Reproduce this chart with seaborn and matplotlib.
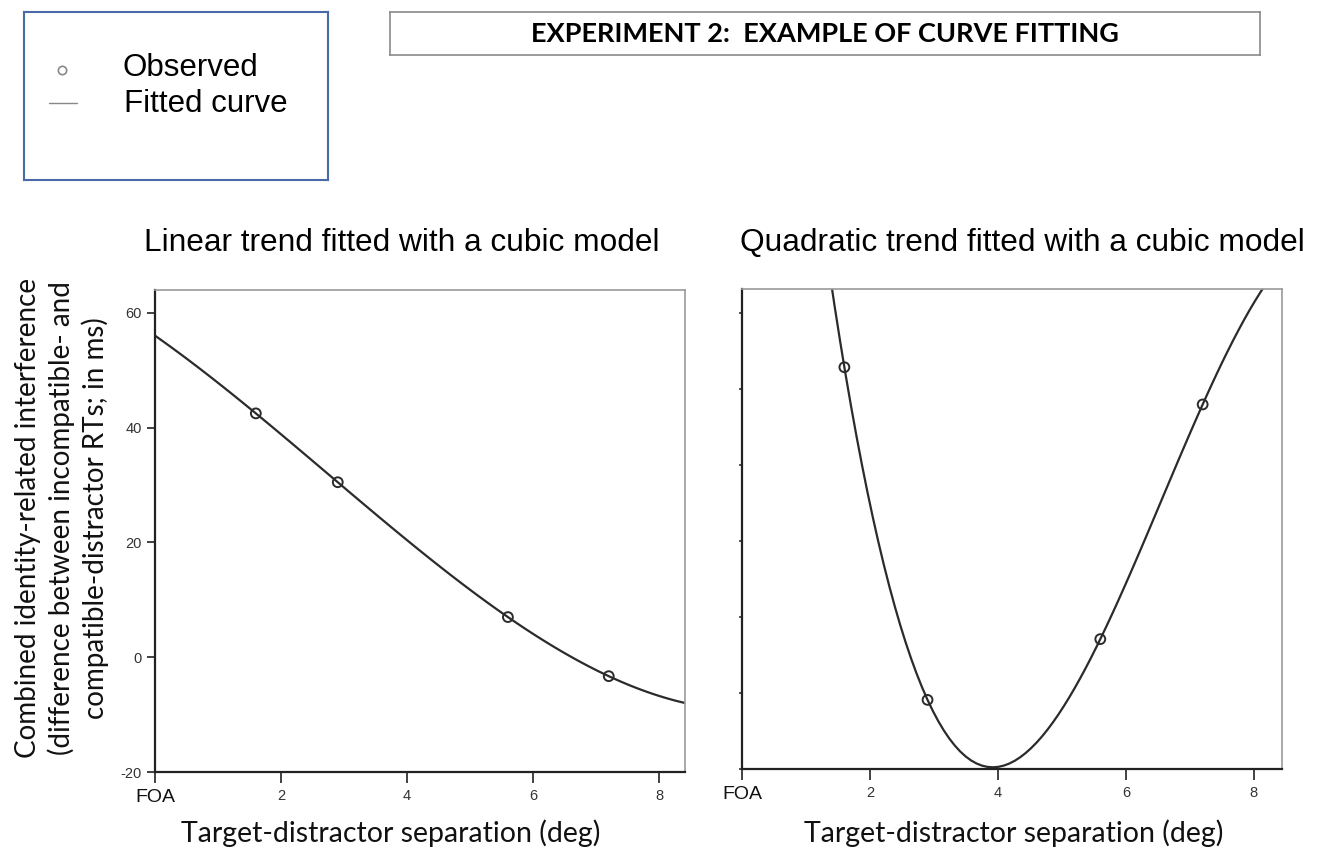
import matplotlib as mpl
import matplotlib.pyplot as plt
import seaborn as sns

# Data
sep_deg = [1.6, 2.9, 5.6, 7.2]
linear_obs = [42.5, 30.5, 7.0, -3.3]
quad_obs = [32.9, -10.9, -2.9, 28.0]

x_ticks = [0, 2, 4, 6, 8]
x_ticklabels = ['FOA', '2', '4', '6', '8']
left_yticks = [-20, 0, 20, 40, 60]
right_yticks = [-20, -10, 0, 10, 20, 30, 40]

panel_titles = ['Linear trend fitted with a cubic model',
                'Quadratic trend fitted with a cubic model']
main_title = 'EXPERIMENT 2:  EXAMPLE OF CURVE FITTING'
x_label = 'Target-distractor separation (deg)'
y_label = ('Combined identity-related interference\n'
           '(difference between incompatible- and\n'
           'compatible-distractor RTs; in ms)')

sns.set_style('white')
plt.rcParams['font.family'] = ['Liberation Sans', 'DejaVu Sans']
plt.rcParams['text.color'] = 'black'

W, H = 1320, 850
fig = plt.figure(figsize=(W / 100, H / 100), dpi=100)


def px_box(x0, y0, x1, y1):
    return [x0 / W, 1 - y1 / H, (x1 - x0) / W, (y1 - y0) / H]


LINE = '#2b2b2b'
LABEL_FONT = ['Lato', 'DejaVu Sans']
TICK_FONT = ['Liberation Sans Narrow', 'Liberation Sans', 'DejaVu Sans']


def style_panel(ax, yticks, show_ylabels):
    for side in ['top', 'right']:
        ax.spines[side].set_color('#9a9a9a')
        ax.spines[side].set_linewidth(1.2)
    for side in ['left', 'bottom']:
        ax.spines[side].set_color('#222222')
        ax.spines[side].set_linewidth(1.6)
    ax.set_xticks(x_ticks)
    ax.set_xticklabels(x_ticklabels, family=TICK_FONT, fontsize=10.5, color='#333333')
    ax.get_xticklabels()[0].set_fontsize(14)
    ax.get_xticklabels()[0].set_family(['Liberation Sans'])
    ax.get_xticklabels()[0].set_color('#111111')
    ax.set_yticks(yticks)
    ax.tick_params(axis='x', direction='out', length=8, width=1.3, color='#333333',
                   bottom=True, pad=4)
    if show_ylabels:
        ax.set_yticklabels([str(v) for v in yticks], family=TICK_FONT, fontsize=10.5,
                           color='#333333')
        ax.tick_params(axis='y', direction='out', length=6, width=1.3,
                       color='#333333', left=True)
    else:
        ax.set_yticklabels([])
        ax.tick_params(axis='y', direction='out', length=2.5, width=1.2,
                       color='#333333', left=True)
    ax.set_xlabel(x_label, family=LABEL_FONT, fontsize=20.5, color='#111111')


def draw_fit(ax, y_obs):
    sns.regplot(x=sep_deg, y=y_obs, order=3, ci=None, truncate=False, scatter=False,
                ax=ax, line_kws=dict(color=LINE, lw=1.6))
    sns.scatterplot(x=sep_deg, y=y_obs, ax=ax, marker='o', s=50,
                    facecolor='none', edgecolor=LINE, linewidth=1.4, zorder=3)


# left panel
ax1 = fig.add_axes(px_box(155, 290, 685, 772))
ax1.set_xlim(0, 8.41)
ax1.set_ylim(-20, 64)
draw_fit(ax1, linear_obs)
style_panel(ax1, left_yticks, True)
ax1.xaxis.set_label_coords((391 - 155) / 530, -(833 - 772) / 482)
ax1.xaxis.label.set_verticalalignment('center')
ax1.set_ylabel(y_label, family=LABEL_FONT, fontsize=20, color='#111111',
               linespacing=1.3, ha='center')
ax1.yaxis.set_label_coords((62 - 155) / 530, (772 - 518) / 482)
ax1.yaxis.label.set_verticalalignment('center')

# right panel
ax2 = fig.add_axes(px_box(742, 289, 1282, 769))
ax2.set_xlim(0, 8.44)
ax2.set_ylim(-20, 43.2)
draw_fit(ax2, quad_obs)
style_panel(ax2, right_yticks, False)
ax2.xaxis.set_label_coords((1014 - 742) / 540, -(833 - 769) / 480)
ax2.xaxis.label.set_verticalalignment('center')

# panel titles
fig.text(402 / W, 1 - 243 / H, panel_titles[0], ha='center', va='center',
         fontsize=22.8, color='black')
fig.text(1022 / W, 1 - 243 / H, panel_titles[1], ha='center', va='center',
         fontsize=22.8, color='black')

# main title box
tax = fig.add_axes(px_box(390, 12, 1260, 55))
tax.set_xticks([])
tax.set_yticks([])
for s in tax.spines.values():
    s.set_color('#8a8a8a')
    s.set_linewidth(1.2)
tax.text(0.5, 0.5, main_title, ha='center', va='center', fontsize=19.5,
         fontweight='bold', family=LABEL_FONT, color='black', transform=tax.transAxes)

# legend box
lax = fig.add_axes(px_box(24, 12, 328, 180))
lax.set_xlim(0, 304)
lax.set_ylim(168, 0)
lax.set_xticks([])
lax.set_yticks([])
for s in lax.spines.values():
    s.set_color('#4a6aa5')
    s.set_linewidth(1.5)
lax.plot([38], [58], marker='o', ms=6, mfc='none', mec='#888888', mew=1.2, ls='none')
lax.plot([25, 53], [91, 91], color='#888888', lw=1.0)
lax.text(98, 56, 'Observed', ha='left', va='center', fontsize=22.5, color='black')
lax.text(100, 92, 'Fitted curve', ha='left', va='center', fontsize=22.5, color='black')

fig.savefig('out.png', dpi=100)
